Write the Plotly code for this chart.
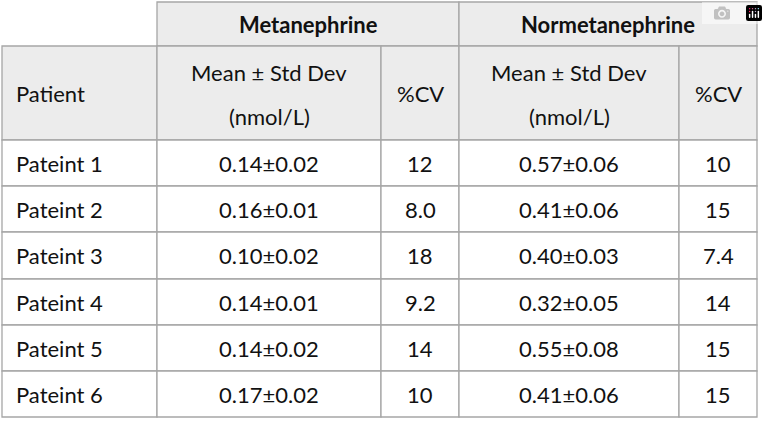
import plotly.graph_objects as go

patients = ["Pateint 1", "Pateint 2", "Pateint 3", "Pateint 4", "Pateint 5", "Pateint 6"]
met_mean = ["0.14±0.02", "0.16±0.01", "0.10±0.02", "0.14±0.01", "0.14±0.02", "0.17±0.02"]
met_cv = ["12", "8.0", "18", "9.2", "14", "10"]
norm_mean = ["0.57±0.06", "0.41±0.06", "0.40±0.03", "0.32±0.05", "0.55±0.08", "0.41±0.06"]
norm_cv = ["10", "15", "7.4", "14", "15", "15"]
groups = ["Metanephrine", "Normetanephrine"]

W, H = 768, 422
cols = [2, 157, 381, 459, 679, 757]
rows = [2, 46, 140, 186, 232, 279, 325, 371, 417]
grey = "#ececec"
line = "#a6a6a6"
font = dict(family="Lato, Open Sans, sans-serif", size=22, color="#111")

fig = go.Figure()
shapes, ann = [], []

def rect(x0, y0, x1, y1, fill):
    shapes.append(dict(type="rect", x0=x0, x1=x1, y0=y0, y1=y1, xref="x", yref="y",
                       fillcolor=fill, line=dict(color=line, width=1.3), layer="below"))

def text(x, y, s, anchor="center", bold=False):
    ann.append(dict(x=x, y=y, xref="x", yref="y", text=f"<b>{s}</b>" if bold else s,
                    showarrow=False, xanchor=anchor, yanchor="middle", font=font))

for i, g in enumerate(groups):
    x0, x1 = cols[1 + 2 * i], cols[3 + 2 * i]
    rect(x0, rows[0], x1, rows[1], grey)
    text((x0 + x1) / 2, (rows[0] + rows[1]) / 2, g, bold=True)

sub = ["Patient", "Mean ± Std Dev<br>(nmol/L)", "%CV", "Mean ± Std Dev<br>(nmol/L)", "%CV"]
for j, s in enumerate(sub):
    rect(cols[j], rows[1], cols[j + 1], rows[2], grey)
    if j == 0:
        text(cols[0] + 12, (rows[1] + rows[2]) / 2, s, anchor="left")
    elif "<br>" in s:
        a, b = s.split("<br>")
        text((cols[j] + cols[j + 1]) / 2, rows[1] + 26, a)
        text((cols[j] + cols[j + 1]) / 2, rows[1] + 70, b)
    else:
        text((cols[j] + cols[j + 1]) / 2, (rows[1] + rows[2]) / 2, s)

for r, p in enumerate(patients):
    y0, y1 = rows[2 + r], rows[3 + r]
    vals = [p, met_mean[r], met_cv[r], norm_mean[r], norm_cv[r]]
    for j, v in enumerate(vals):
        rect(cols[j], y0, cols[j + 1], y1, "white")
        if j == 0:
            text(cols[0] + 12, (y0 + y1) / 2, v, anchor="left")
        else:
            text((cols[j] + cols[j + 1]) / 2, (y0 + y1) / 2, v)

fig.update_layout(width=W, height=H, margin=dict(l=0, r=0, t=0, b=0),
                  paper_bgcolor="white", plot_bgcolor="white",
                  shapes=shapes, annotations=ann, showlegend=False,
                  xaxis=dict(range=[0, W], visible=False, fixedrange=True),
                  yaxis=dict(range=[H, 0], visible=False, fixedrange=True))
fig.write_html("out.html", post_script="document.body.style.margin='0';document.body.style.overflow='hidden';")
